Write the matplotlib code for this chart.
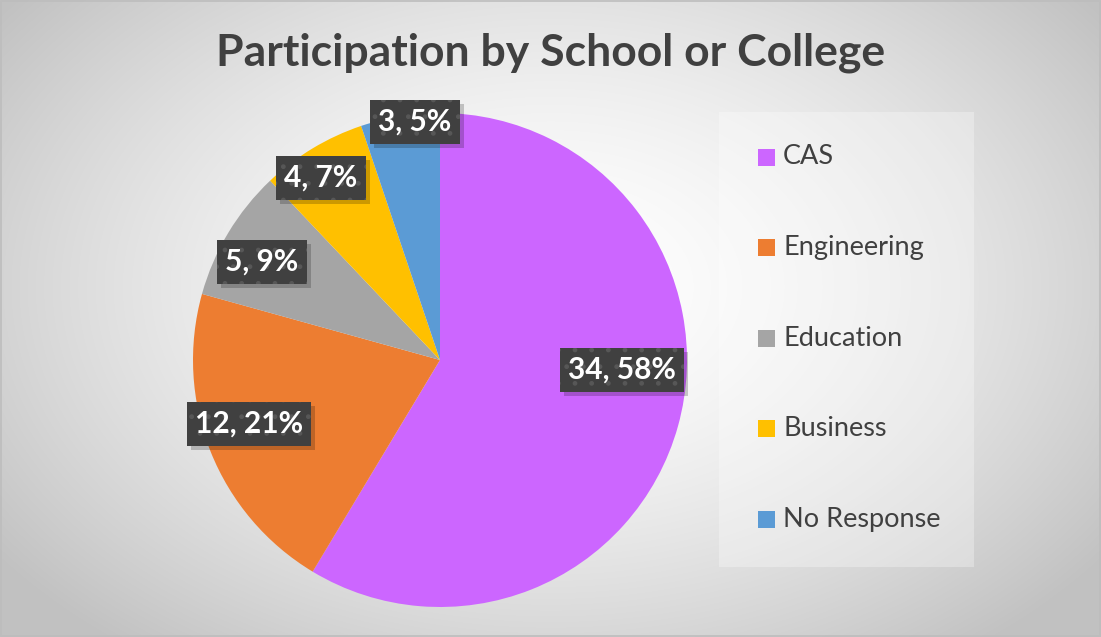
import numpy as np
import matplotlib
matplotlib.use("Agg")
import matplotlib.pyplot as plt
from matplotlib.patches import Rectangle

# Survey responses by school or college
categories = ["CAS", "Engineering", "Education", "Business", "No Response"]
counts = [34, 12, 5, 4, 3]
percents = [58, 21, 9, 7, 5]
colors = ["#cc66ff", "#ed7d31", "#a5a5a5", "#ffc000", "#5b9bd5"]
title = "Participation by School or College"

W, H = 1101, 637
fig = plt.figure(figsize=(W / 100, H / 100), dpi=100)

# radial gradient backdrop
bg = fig.add_axes([0, 0, 1, 1])
yy, xx = np.mgrid[0:H, 0:W]
cx, cy = W * 0.5, H * 0.45
r = np.sqrt(((xx - cx) / (W * 0.62)) ** 2 + ((yy - cy) / (H * 0.72)) ** 2)
r = np.clip(r, 0, 1)
shade = 1.0 - 0.24 * r ** 1.6
img = np.dstack([shade, shade, shade])
bg.imshow(img, extent=[0, W, H, 0], aspect="auto", interpolation="bilinear")
bg.add_patch(Rectangle((0.5, 0.5), W - 1.5, H - 1.5, fill=False, ec="#bdbdbd", lw=1.2))
bg.set_xlim(0, W)
bg.set_ylim(H, 0)
bg.axis("off")

# title
fig.text(551 / W, 1 - 53 / H, title, ha="center", va="center",
         fontsize=32, fontweight="bold", family="Lato", color="#404040")

# pie
pcx, pcy, rad = 440, 360, 247
ax = fig.add_axes([(pcx - rad) / W, (H - pcy - rad) / H, 2 * rad / W, 2 * rad / H])
ax.pie(counts, colors=colors, startangle=90, counterclock=False, radius=1,
       wedgeprops=dict(linewidth=0))
ax.set_xlim(-1, 1)
ax.set_ylim(-1, 1)
ax.set_aspect("equal")
ax.axis("off")

# data labels: "count, percent" in dark boxes
label_pos = [(622, 370), (249, 424), (262, 262), (321, 178), (415, 122)]
labels = []
for c, p, (px, py) in zip(counts, percents, label_pos):
    t = fig.text(px / W, 1 - py / H, f"{c}, {p}%", ha="center", va="center",
                 fontsize=21.5, fontweight="bold", family="Lato", color="white",
                 zorder=5,
                 bbox=dict(boxstyle="square,pad=0.28", fc="#404040", ec="#575757",
                           lw=0, hatch="."))
    labels.append(t)

# soft drop shadow behind each label box
fig.canvas.draw()
renderer = fig.canvas.get_renderer()
for t in labels:
    ext = t.get_bbox_patch().get_window_extent(renderer)
    fig.patches.append(Rectangle((ext.x0 + 4, ext.y0 - 4), ext.width, ext.height,
                                 transform=None, fc=(0, 0, 0, 0.2), ec="none",
                                 zorder=4, figure=fig))

# legend panel
bg.add_patch(Rectangle((719, 112), 255, 455, fc=(1, 1, 1, 0.3), ec="none"))
leg_y = [157, 247, 338, 428, 519]
for name, col, ly in zip(categories, colors, leg_y):
    bg.add_patch(Rectangle((758, ly - 8.5), 17, 17, fc=col, ec="none"))
    bg.text(783, ly, name, ha="left", va="center", fontsize=19.5,
            family="Lato", color="#404040")

fig.savefig("out.png", dpi=100)
